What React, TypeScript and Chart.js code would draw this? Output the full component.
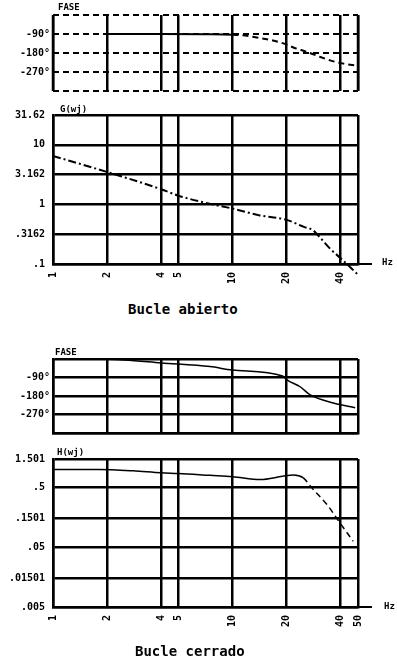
import React, { useEffect, useRef } from "react";
import { Chart, registerables } from "chart.js";
Chart.register(...registerables);

const freqTicks = [1, 2, 4, 5, 10, 20, 40, 50];
const openFreqLabels = ["1", "2", "4", "5", "10", "20", "40", ""];
const closedFreqLabels = ["1", "2", "4", "5", "10", "20", "40", "50"];

const phaseTicks = [-360, -270, -180, -90, 0];
const phaseLabels = ["", "-270°", "-180°", "-90°", ""];

const openMagTicks = [0.1, 0.3162, 1, 3.162, 10, 31.62];
const openMagLabels = [".1", ".3162", "1", "3.162", "10", "31.62"];
const closedMagTicks = [0.005, 0.01501, 0.05, 0.1501, 0.5, 1.501];
const closedMagLabels = [".005", ".01501", ".05", ".1501", ".5", "1.501"];

const openPhaseFreq = [2, 4, 7, 10, 11, 14, 17, 20, 22, 26, 30, 35, 40, 50];
const openPhaseDeg = [-90, -90, -91, -93, -95, -108, -122, -140, -155, -175, -195, -215, -228, -240];

const openMagFreq = [1, 2, 4, 5, 7, 10, 14, 20, 25, 28, 31, 35, 40, 45, 50];
const openMagVal = [6.5, 3.5, 1.8, 1.4, 1.07, 0.85, 0.66, 0.55, 0.42, 0.37, 0.27, 0.18, 0.125, 0.09, 0.066];

const closedPhaseFreq = [1, 1.8, 2.5, 4, 7.5, 10, 19, 20.1, 23.8, 27.1, 36.4, 48.2];
const closedPhaseDeg = [0, 0, -5, -19, -37, -54, -83, -102, -135, -175, -214, -237];

const closedMagFreq = [1, 1.8, 2.8, 4, 5, 7.5, 10, 14.3, 19, 21.8, 24.7, 28.1, 33.7, 39.8, 47];
const closedMagVal = [1.0, 1.0, 0.95, 0.88, 0.86, 0.8, 0.76, 0.68, 0.77, 0.81, 0.73, 0.467, 0.256, 0.126, 0.063];

const FONT = "'DejaVu Sans Mono', monospace";

const axisExt = {
  id: "axisExt",
  afterDraw(chart: any, _a: any, opts: any) {
    if (!opts) return;
    const { ctx, chartArea } = chart;
    ctx.save();
    ctx.strokeStyle = "#000";
    ctx.lineWidth = 2.5;
    if (opts.frame) {
      ctx.beginPath();
      ctx.moveTo(chartArea.left, chartArea.top);
      ctx.lineTo(chartArea.left, chartArea.bottom);
      ctx.moveTo(chartArea.right, chartArea.top);
      ctx.lineTo(chartArea.right, chartArea.bottom);
      ctx.stroke();
    }
    if (opts.on) {
      ctx.lineWidth = 2;
      ctx.beginPath();
      ctx.moveTo(chartArea.right, chartArea.bottom);
      ctx.lineTo(chartArea.right + 14, chartArea.bottom);
      ctx.stroke();
    }
    ctx.restore();
  },
};

function pts(xs: number[], ys: number[]) {
  return xs.map((x, i) => ({ x, y: ys[i] }));
}

type Cfg = {
  height: number;
  padTop: number;
  xHeight: number;
  xLabels: string[] | null;
  yType: "linear" | "logarithmic";
  yTicks: number[];
  yLabels: string[];
  yMin: number;
  yMax: number;
  yPad: number;
  hDash: number[];
  dataset: any;
  ext: boolean;
};

function Panel({ cfg, top }: { cfg: Cfg; top: number }) {
  const ref = useRef<HTMLCanvasElement>(null);
  useEffect(() => {
    const c = ref.current!;
    const dashed = cfg.hDash.length > 0;
    const chart = new Chart(c, {
      type: "line",
      data: { datasets: [cfg.dataset] },
      plugins: [axisExt],
      options: {
        animation: false,
        responsive: false,
        maintainAspectRatio: false,
        layout: { padding: { left: 0, right: 39, top: cfg.padTop, bottom: 0 } },
        plugins: { legend: { display: false }, tooltip: { enabled: false }, axisExt: { on: cfg.ext, frame: dashed } } as any,
        elements: { point: { radius: 0 } },
        scales: {
          x: {
            type: "logarithmic",
            min: 1,
            max: 50,
            afterBuildTicks: (s: any) => {
              s.ticks = freqTicks.map((v) => ({ value: v }));
            },
            afterFit: (s: any) => {
              s.height = cfg.xHeight;
            },
            grid: { color: "#000", lineWidth: 2.5, drawTicks: false },
            border: { display: !dashed, color: "#000", width: 2.5, dash: [] },
            ticks: {
              display: !!cfg.xLabels,
              autoSkip: false,
              maxRotation: 90,
              minRotation: 90,
              padding: 8,
              color: "#000",
              font: { family: FONT, size: 10, weight: "bold" },
              callback: (_v: any, i: number) => (cfg.xLabels ? cfg.xLabels[i] : ""),
            },
          } as any,
          y: {
            type: cfg.yType,
            min: cfg.yMin,
            max: cfg.yMax,
            afterBuildTicks: (s: any) => {
              s.ticks = cfg.yTicks.map((v) => ({ value: v }));
            },
            afterFit: (s: any) => {
              s.width = 53;
            },
            grid: { color: "#000", lineWidth: dashed ? 2 : 2.5, drawTicks: false },
            border: { display: !dashed, color: "#000", width: 2.5, dash: cfg.hDash },
            ticks: {
              autoSkip: false,
              padding: cfg.yPad,
              color: "#000",
              font: { family: FONT, size: 10, weight: "bold" },
              callback: (_v: any, i: number) => cfg.yLabels[i],
            },
          } as any,
        },
      },
    });
    return () => chart.destroy();
  }, []);
  return (
    <canvas
      ref={ref}
      width={397}
      height={cfg.height}
      style={{ position: "absolute", left: 0, top, width: 397, height: cfg.height }}
    />
  );
}

const lineBase = {
  borderColor: "#000",
  backgroundColor: "#000",
  borderWidth: 2,
  pointRadius: 0,
  cubicInterpolationMode: "monotone",
  fill: false,
};

const panels: { top: number; cfg: Cfg }[] = [
  {
    top: 0,
    cfg: {
      height: 100,
      padTop: 15,
      xHeight: 8,
      xLabels: null,
      yType: "linear",
      yTicks: phaseTicks,
      yLabels: phaseLabels,
      yMin: -360,
      yMax: 0,
      yPad: 3,
      hDash: [6, 4],
      ext: false,
      dataset: {
        ...lineBase,
        data: pts(openPhaseFreq, openPhaseDeg),
        segment: { borderDash: (ctx: any) => (ctx.p0.parsed.x >= 10 ? [6, 4] : undefined) },
      },
    },
  },
  {
    top: 100,
    cfg: {
      height: 200,
      padTop: 15,
      xHeight: 36,
      xLabels: openFreqLabels,
      yType: "logarithmic",
      yTicks: openMagTicks,
      yLabels: openMagLabels,
      yMin: 0.1,
      yMax: 31.62,
      yPad: 8,
      hDash: [],
      ext: true,
      dataset: {
        ...lineBase,
        clip: false,
        borderDash: [8, 3, 2, 3],
        data: pts(openMagFreq, openMagVal),
      },
    },
  },
  {
    top: 345,
    cfg: {
      height: 100,
      padTop: 14,
      xHeight: 12,
      xLabels: null,
      yType: "linear",
      yTicks: phaseTicks,
      yLabels: phaseLabels,
      yMin: -360,
      yMax: 0,
      yPad: 3,
      hDash: [],
      ext: false,
      dataset: {
        ...lineBase,
        borderWidth: 1.5,
        data: pts(closedPhaseFreq, closedPhaseDeg),
      },
    },
  },
  {
    top: 445,
    cfg: {
      height: 200,
      padTop: 13,
      xHeight: 38,
      xLabels: closedFreqLabels,
      yType: "logarithmic",
      yTicks: closedMagTicks,
      yLabels: closedMagLabels,
      yMin: 0.005,
      yMax: 1.501,
      yPad: 8,
      hDash: [],
      ext: true,
      dataset: {
        ...lineBase,
        borderWidth: 1.5,
        data: pts(closedMagFreq, closedMagVal),
        segment: { borderDash: (ctx: any) => (ctx.p0.parsed.x >= 24 ? [6, 4] : undefined) },
      },
    },
  },
];

const txt = (s: string, left: number, top: number, size: number) => (
  <div
    style={{
      position: "absolute",
      left,
      top,
      fontFamily: FONT,
      fontWeight: "bold",
      fontSize: size,
      lineHeight: 1,
      color: "#000",
      whiteSpace: "nowrap",
    }}
  >
    {s}
  </div>
);

export default function App() {
  return (
    <div style={{ position: "absolute", left: 0, top: 0, width: 397, height: 660, background: "#fff", overflow: "hidden" }}>
      {panels.map((p, i) => (
        <Panel key={i} cfg={p.cfg} top={p.top} />
      ))}
      {txt("FASE", 58, 3, 9)}
      {txt("G(wj)", 60, 105, 9)}
      {txt("Hz", 382, 258, 9)}
      {txt("Bucle abierto", 128, 302, 14)}
      {txt("FASE", 55, 348, 9)}
      {txt("H(wj)", 57, 448, 9)}
      {txt("Hz", 384, 602, 9)}
      {txt("Bucle cerrado", 135, 644, 14)}
    </div>
  );
}
